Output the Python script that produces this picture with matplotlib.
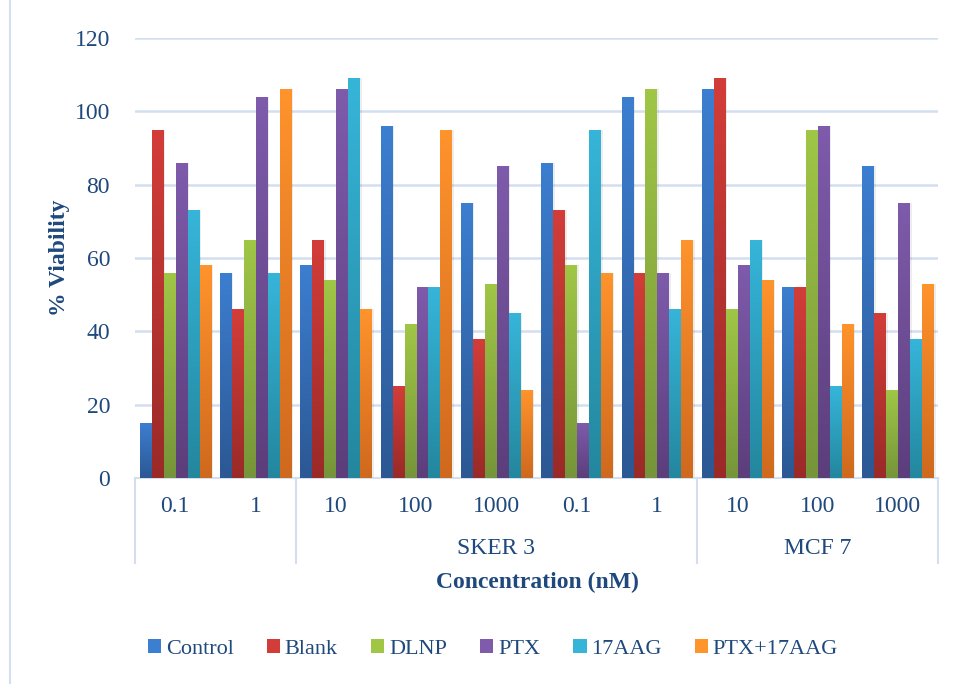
import numpy as np
import matplotlib
matplotlib.use('Agg')
import matplotlib.pyplot as plt
from matplotlib.colors import to_rgb
from matplotlib.lines import Line2D
from matplotlib.patches import Patch

plt.rcParams['font.family'] = ['Liberation Serif', 'DejaVu Serif']

# data
conc_labels = ['0.1', '1', '10', '100', '1000', '0.1', '1', '10', '100', '1000']
cell_lines = ['', 'SKER 3', 'MCF 7']
cell_spans = [(0, 1), (2, 6), (7, 9)]
series = ['Control', 'Blank', 'DLNP', 'PTX', '17AAG', 'PTX+17AAG']

control = [15, 56, 58, 96, 75, 86, 104, 106, 52, 85]
blank = [95, 46, 65, 25, 38, 73, 56, 109, 52, 45]
dlnp = [56, 65, 54, 42, 53, 58, 106, 46, 95, 24]
ptx = [86, 104, 106, 52, 85, 15, 56, 58, 96, 75]
aag = [73, 56, 109, 52, 45, 95, 46, 65, 25, 38]
ptx_aag = [58, 106, 46, 95, 24, 56, 65, 54, 42, 53]
values = [control, blank, dlnp, ptx, aag, ptx_aag]

# gradient colours (top, bottom)
tops = ['#3C7ED0', '#D33D39', '#A0C646', '#7E5BAB', '#36B5D9', '#FF932C']
bottoms = ['#2C5894', '#9A2A28', '#76953A', '#5C3E7C', '#23879E', '#CF691E']
text_col = '#1F497D'
line_col = '#D3DEEE'

fig = plt.figure(figsize=(9.56, 6.84), dpi=100)
ax = fig.add_axes([135 / 956, 1 - 478 / 684, 803 / 956, 440 / 684])

x = np.arange(len(conc_labels))
pitch = 0.149
width = 0.137

for i, vals in enumerate(values):
    pos = x + (i - 2.5) * pitch
    # soft shadow
    ax.bar(pos + 0.03, vals, width=width, color='black', alpha=0.07,
           zorder=2, linewidth=0)
    bars = ax.bar(pos, vals, width=width, color=tops[i], zorder=3,
                  linewidth=0)
    t = np.array(to_rgb(tops[i]))
    b = np.array(to_rgb(bottoms[i]))
    grad = np.linspace(0, 1, 64)[:, None, None]
    img = t * (1 - grad) + b * grad
    for p in bars:
        x0 = p.get_x()
        h = p.get_height()
        im = ax.imshow(img, extent=[x0, x0 + width, 0, h], aspect='auto',
                       origin='upper', zorder=4, interpolation='bilinear')
        im.set_clip_path(p)

ax.set_xlim(-0.5, len(conc_labels) - 0.5)
ax.set_ylim(0, 120)
ax.set_yticks(range(0, 121, 20))
ax.yaxis.grid(True, color=line_col, linewidth=1.8)
ax.set_axisbelow(True)
for s in ['top', 'right', 'left']:
    ax.spines[s].set_visible(False)
ax.spines['bottom'].set_color(line_col)
ax.spines['bottom'].set_linewidth(1.5)
ax.tick_params(axis='y', length=0, pad=18, labelsize=17, labelcolor=text_col)
ax.tick_params(axis='x', length=0)
ax.set_xticks([])

# multi-level category axis
trans = ax.get_xaxis_transform()
y_tick = -(506 - 478) / 440
y_group = -(548 - 478) / 440
y_end = -(563 - 478) / 440
for xi, lab in zip(x, conc_labels):
    ax.text(xi, y_tick, lab, transform=trans, ha='center', va='center',
            fontsize=17, color=text_col)
for name, (a, b) in zip(cell_lines, cell_spans):
    ax.text((a + b) / 2, y_group, name, transform=trans, ha='center',
            va='center', fontsize=17, color=text_col)
for xs in [-0.5, 1.5, 6.5, 9.5]:
    ax.add_line(Line2D([xs, xs], [0, y_end], transform=trans, color=line_col,
                       linewidth=1.5, clip_on=False))

fig.text(537 / 956, 1 - 582 / 684, 'Concentration (nM)', ha='center',
         va='center', fontsize=17, fontweight='bold', color=text_col)
fig.text(60 / 956, 1 - 258 / 684, '% Viability', ha='center', va='center',
         rotation=90, fontsize=17, fontweight='bold', color=text_col)

# chart-area border on the left
fig.add_artist(Line2D([10 / 956, 10 / 956], [0, 1], transform=fig.transFigure,
                      color=line_col, linewidth=1.5))

handles = [Patch(facecolor=c, edgecolor='none') for c in tops]
fig.legend(handles, series, loc='center', ncol=6,
           bbox_to_anchor=(493 / 956, 1 - 649 / 684), frameon=False,
           fontsize=16, labelcolor=text_col, handlelength=0.6,
           handleheight=0.6, handletextpad=0.2, columnspacing=1.5)

fig.savefig('out.png', dpi=100)
